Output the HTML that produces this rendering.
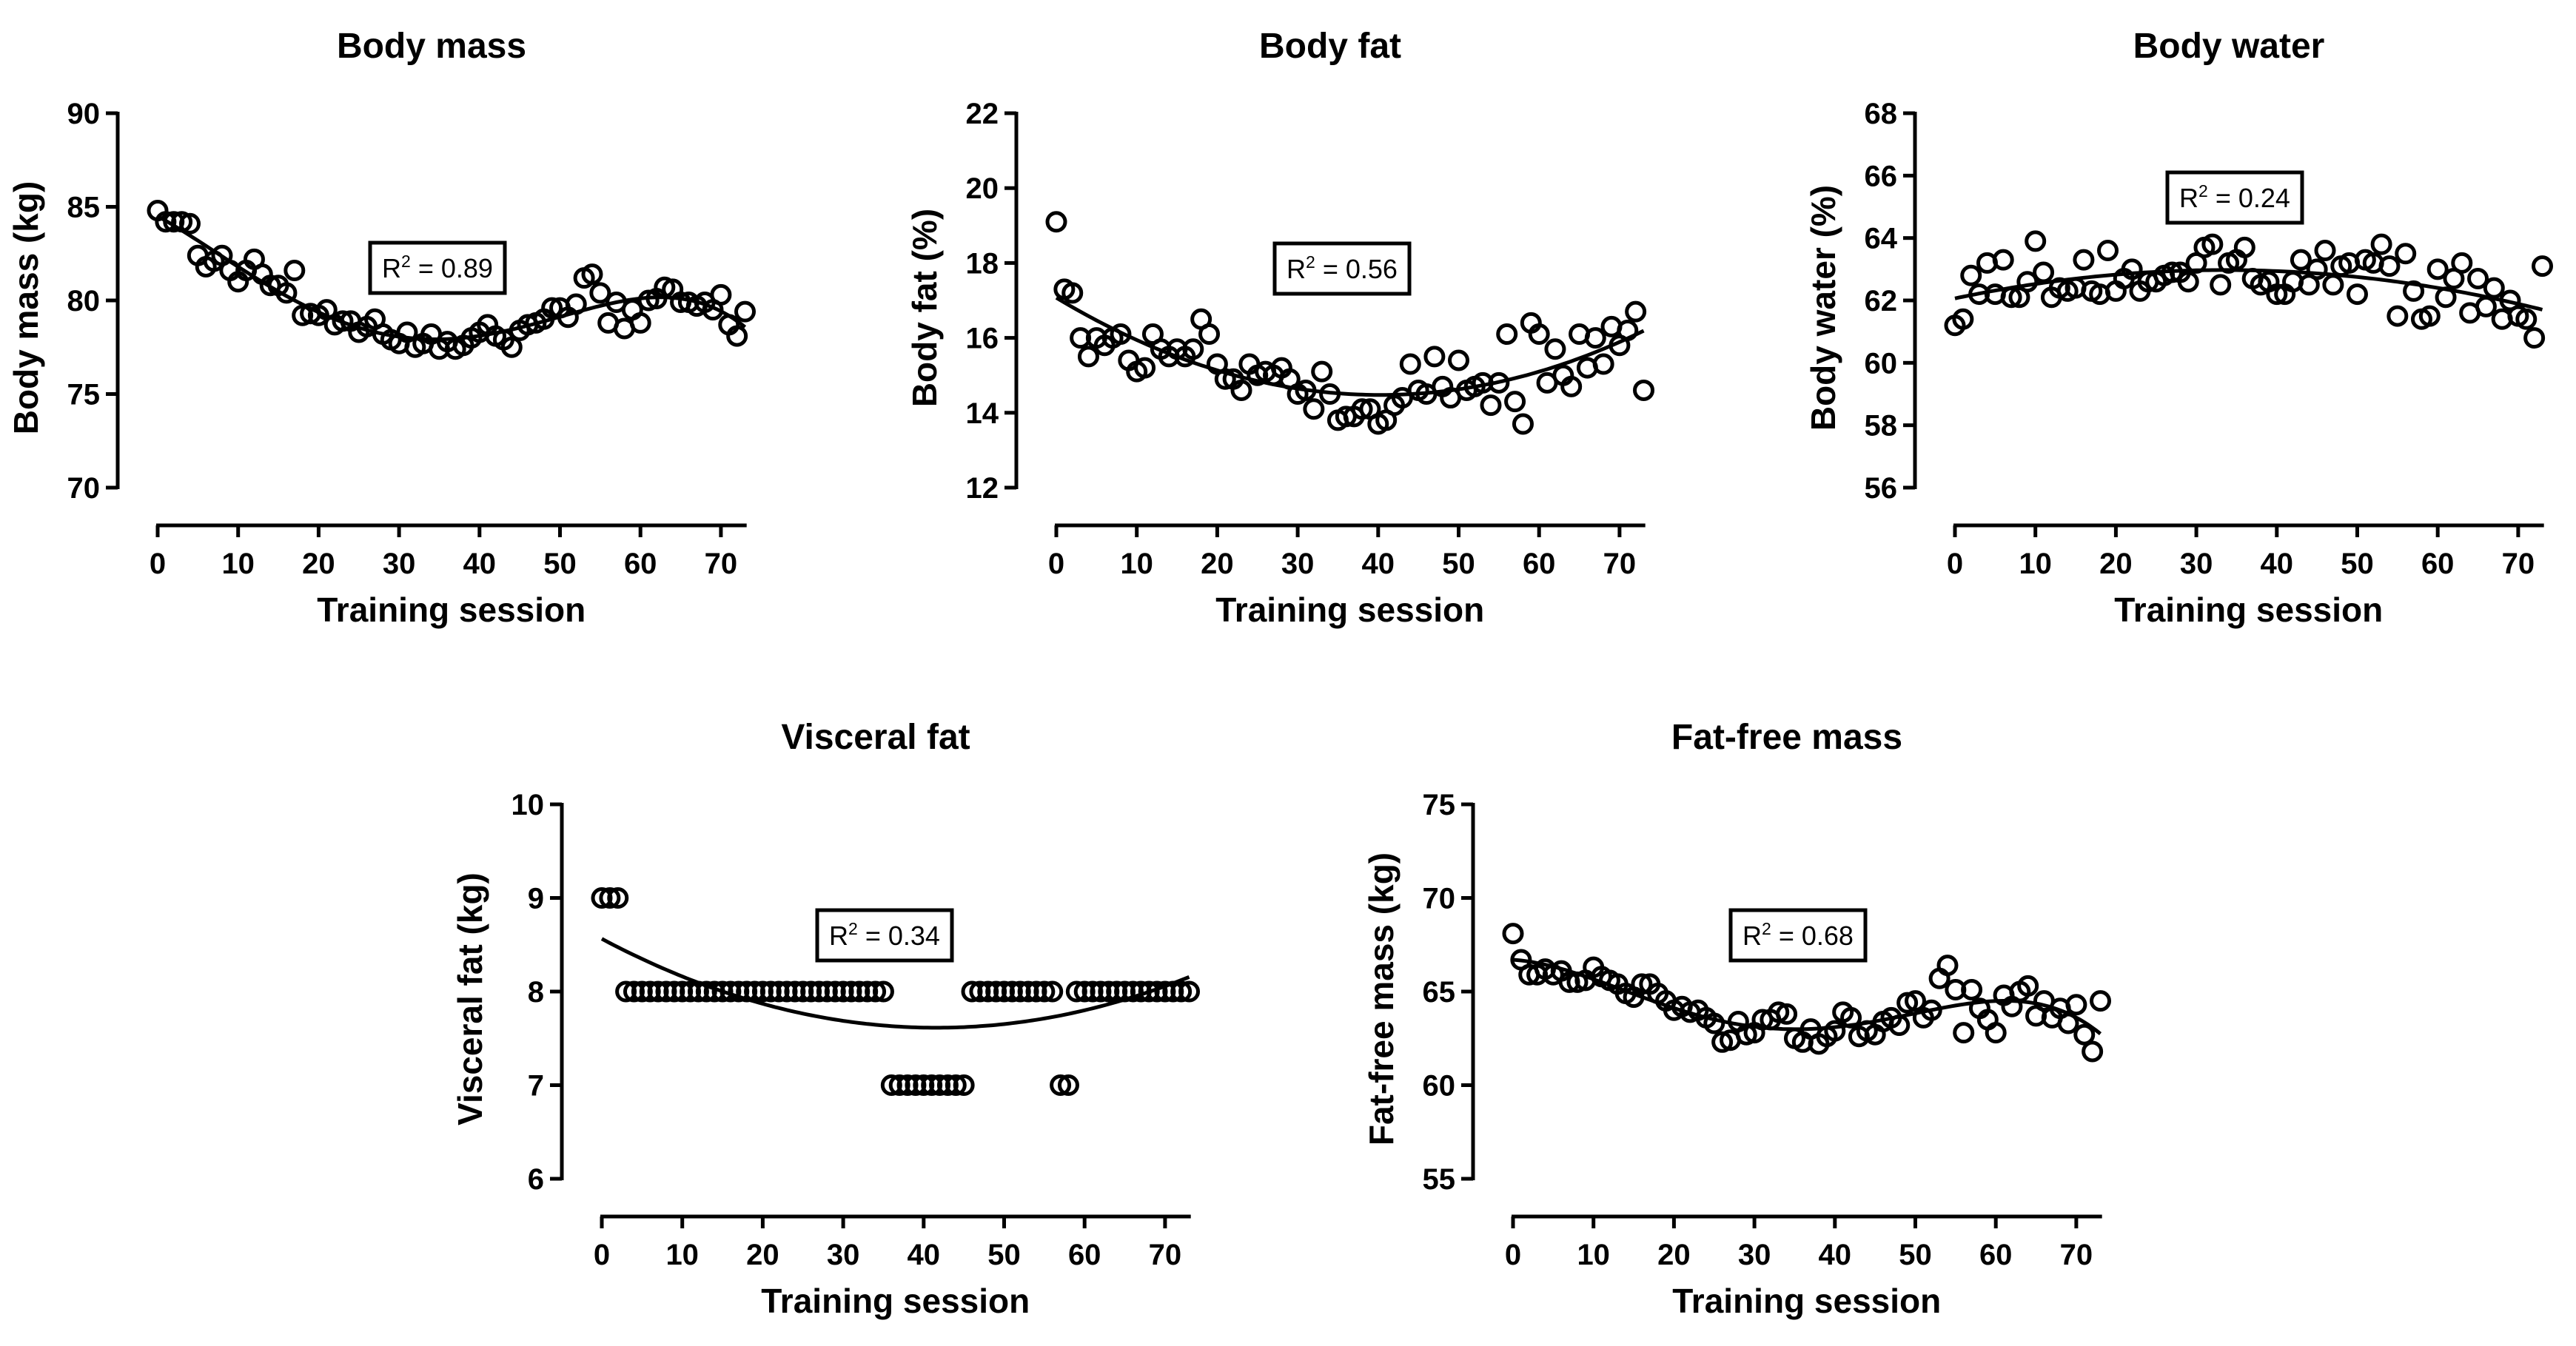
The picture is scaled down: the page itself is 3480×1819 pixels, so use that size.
<!DOCTYPE html>
<html><head><meta charset="utf-8"><style>
html,body{margin:0;padding:0;background:#fff;}
svg{display:block;font-family:"Liberation Sans",Arial,sans-serif;}
</style></head><body>
<svg id="fig" width="3480" height="1819" viewBox="0 0 3480 1819" xmlns="http://www.w3.org/2000/svg"></svg>
<script>
const sessions = Array.from({length:74},(_, i)=>i);
const xTicks = [0,10,20,30,40,50,60,70];
const bodyMass = [84.8,84.2,84.2,84.2,84.1,82.4,81.8,82.1,82.4,81.6,81.0,81.6,82.2,81.4,80.8,80.8,80.4,81.6,79.2,79.3,79.2,79.5,78.7,78.9,78.9,78.3,78.6,79.0,78.2,77.9,77.7,78.3,77.5,77.7,78.2,77.4,77.8,77.4,77.6,78.0,78.3,78.7,78.1,77.9,77.5,78.4,78.7,78.8,79.0,79.6,79.6,79.1,79.8,81.2,81.4,80.4,78.8,79.9,78.5,79.5,78.8,80.0,80.1,80.7,80.6,79.9,79.9,79.7,79.9,79.5,80.3,78.7,78.1,79.4];
const bodyFat = [19.1,17.3,17.2,16.0,15.5,16.0,15.8,16.0,16.1,15.4,15.1,15.2,16.1,15.7,15.5,15.7,15.5,15.7,16.5,16.1,15.3,14.9,14.9,14.6,15.3,15.0,15.1,15.0,15.2,14.9,14.5,14.6,14.1,15.1,14.5,13.8,13.9,13.9,14.1,14.1,13.7,13.8,14.2,14.4,15.3,14.6,14.5,15.5,14.7,14.4,15.4,14.6,14.7,14.8,14.2,14.8,16.1,14.3,13.7,16.4,16.1,14.8,15.7,15.0,14.7,16.1,15.2,16.0,15.3,16.3,15.8,16.2,16.7,14.6];
const bodyWater = [61.2,61.4,62.8,62.2,63.2,62.2,63.3,62.1,62.1,62.6,63.9,62.9,62.1,62.4,62.3,62.4,63.3,62.3,62.2,63.6,62.3,62.7,63.0,62.3,62.6,62.6,62.8,62.9,62.9,62.6,63.2,63.7,63.8,62.5,63.2,63.3,63.7,62.7,62.5,62.6,62.2,62.2,62.6,63.3,62.5,63.0,63.6,62.5,63.1,63.2,62.2,63.3,63.2,63.8,63.1,61.5,63.5,62.3,61.4,61.5,63.0,62.1,62.7,63.2,61.6,62.7,61.8,62.4,61.4,62.0,61.5,61.4,60.8,63.1];
const visceralFat = [9,9,9,8,8,8,8,8,8,8,8,8,8,8,8,8,8,8,8,8,8,8,8,8,8,8,8,8,8,8,8,8,8,8,8,8,7,7,7,7,7,7,7,7,7,7,8,8,8,8,8,8,8,8,8,8,8,7,7,8,8,8,8,8,8,8,8,8,8,8,8,8,8,8];
const fatFreeMass = [68.1,66.7,65.9,65.9,66.2,65.9,66.1,65.5,65.5,65.6,66.3,65.8,65.6,65.4,64.9,64.7,65.4,65.4,64.9,64.5,64.0,64.2,63.9,64.0,63.6,63.3,62.3,62.4,63.4,62.7,62.8,63.5,63.5,63.9,63.8,62.5,62.3,63.0,62.2,62.6,62.9,63.9,63.6,62.6,62.9,62.7,63.4,63.6,63.2,64.4,64.5,63.6,64.0,65.7,66.4,65.1,62.8,65.1,64.1,63.5,62.8,64.8,64.2,65.0,65.3,63.7,64.5,63.6,64.1,63.3,64.3,62.7,61.8,64.5];
const massTicks = [70,75,80,85,90];
const fatTicks = [12,14,16,18,20,22];
const waterTicks = [56,58,60,62,64,66,68];
const visceralTicks = [6,7,8,9,10];
const ffmTicks = [55,60,65,70,75];
const r2Labels = ["0.89","0.56","0.24","0.34","0.68"];

const NS="http://www.w3.org/2000/svg";
const svg=document.getElementById('fig');
function mk(tag,attrs,parent){const e=document.createElementNS(NS,tag);for(const k in attrs)e.setAttribute(k,attrs[k]);(parent||svg).appendChild(e);return e;}

function polyfit(xs,ys,deg){
  const n=deg+1, s=73;
  const A=[];for(let i=0;i<n;i++){A.push(new Array(n+1).fill(0));}
  xs.forEach((x0,k)=>{const x=x0/s;for(let i=0;i<n;i++){for(let j=0;j<n;j++)A[i][j]+=Math.pow(x,i+j);A[i][n]+=Math.pow(x,i)*ys[k];}});
  for(let c=0;c<n;c++){let p=c;for(let r=c+1;r<n;r++)if(Math.abs(A[r][c])>Math.abs(A[p][c]))p=r;[A[c],A[p]]=[A[p],A[c]];
    for(let r=0;r<n;r++){if(r===c)continue;const f=A[r][c]/A[c][c];for(let j=c;j<=n;j++)A[r][j]-=f*A[c][j];}}
  const co=A.map((r,i)=>r[n]/r[i]);
  return x=>co.reduce((a,c,i)=>a+c*Math.pow(x/s,i),0);
}

function panel(cfg){
  const g=mk('g',{},svg);
  
  
  const yTop=cfg.top, yBot=cfg.top+506;
  const ymin=cfg.ticks[0], ymax=cfg.ticks[cfg.ticks.length-1];
  const X=v=>cfg.x0+v*10.87;
  const Y=v=>yBot-(v-ymin)/(ymax-ymin)*(yBot-yTop);
  const axY=yBot+51, yAxX=cfg.x0-54;
  const t=mk('text',{x:cfg.x0+370,y:cfg.top-75,'text-anchor':'middle','font-size':48,'font-weight':'bold'},g);t.textContent=cfg.title;
  
  const ya=mk('line',{x1:yAxX,y1:yTop-2,x2:yAxX,y2:yBot+2,stroke:'#000','stroke-width':5},g);
  
  cfg.ticks.forEach(v=>{
    mk('line',{x1:yAxX-16,y1:Y(v),x2:yAxX,y2:Y(v),stroke:'#000','stroke-width':5},g);
    const l=mk('text',{x:yAxX-24,y:Y(v)+14,'text-anchor':'end','font-size':40,'font-weight':'bold'},g);l.textContent=v;
    
  });
  const xa=mk('line',{x1:X(0)-2,y1:axY,x2:X(73.2),y2:axY,stroke:'#000','stroke-width':5},g);
  
  xTicks.forEach(v=>{
    mk('line',{x1:X(v),y1:axY,x2:X(v),y2:axY+16,stroke:'#000','stroke-width':5},g);
    const l=mk('text',{x:X(v),y:axY+65,'text-anchor':'middle','font-size':40,'font-weight':'bold'},g);l.textContent=v;
    
  });
  const xt=mk('text',{x:X(36.5),y:axY+130,'text-anchor':'middle','font-size':46,'font-weight':'bold'},g);xt.textContent='Training session';
  
  const yc=(yTop+yBot)/2+10, yx=cfg.x0-162;
  const yt=mk('text',{x:yx,y:yc,'text-anchor':'middle','font-size':46,'font-weight':'bold',transform:`rotate(-90 ${yx} ${yc})`},g);yt.textContent=cfg.ylabel;
  
  const f=polyfit(sessions,cfg.data,cfg.deg);
  let d='';for(let s=0;s<=73;s+=0.5){d+=(s?'L':'M')+X(s).toFixed(1)+','+Y(f(s)).toFixed(1);}
  const fl=mk('path',{d:d,fill:'none',stroke:'#000','stroke-width':5},g);
  
  cfg.data.forEach((v,i)=>{
    const c=mk('circle',{cx:X(sessions[i]),cy:Y(v),r:12,fill:'none',stroke:'#000','stroke-width':5},g);
    
  });
  const bx=cfg.box[0], by=cfg.box[1];
  const bg=mk('g',{},g);
  mk('rect',{x:bx,y:by,width:182,height:68,fill:'#fff',stroke:'#000','stroke-width':5},bg);
  const rt=mk('text',{x:bx+91,y:by+47,'text-anchor':'middle','font-size':36},bg);
  rt.innerHTML='R<tspan dy="-14" font-size="23">2</tspan><tspan dy="14"> = '+cfg.r2+'</tspan>';
}

panel({name:'body-mass-panel',title:'Body mass',ylabel:'Body mass (kg)',x0:213,top:153,ticks:massTicks,data:bodyMass,deg:4,box:[500,328],r2:r2Labels[0]});
panel({name:'body-fat-panel',title:'Body fat',ylabel:'Body fat (%)',x0:1427,top:153,ticks:fatTicks,data:bodyFat,deg:2,box:[1722,329],r2:r2Labels[1]});
panel({name:'body-water-panel',title:'Body water',ylabel:'Body water (%)',x0:2641,top:153,ticks:waterTicks,data:bodyWater,deg:2,box:[2928,233],r2:r2Labels[2]});
panel({name:'visceral-fat-panel',title:'Visceral fat',ylabel:'Visceral fat (kg)',x0:813,top:1087,ticks:visceralTicks,data:visceralFat,deg:2,box:[1104,1230],r2:r2Labels[3]});
panel({name:'fat-free-mass-panel',title:'Fat-free mass',ylabel:'Fat-free mass (kg)',x0:2044,top:1087,ticks:ffmTicks,data:fatFreeMass,deg:4,box:[2338,1230],r2:r2Labels[4]});
</script>
</body></html>
